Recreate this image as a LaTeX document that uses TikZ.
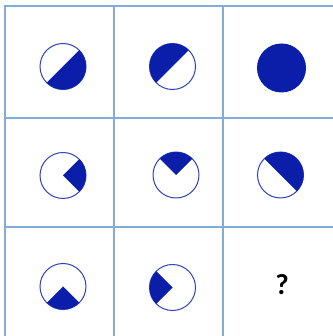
\documentclass[tikz,border=0pt]{standalone}
\usepackage{fontspec}
\usetikzlibrary{calc}
\newfontfamily\qfont{Carlito}
\definecolor{gridc}{RGB}{130,172,218}
\definecolor{fillc}{RGB}{10,30,170}
\definecolor{ringc}{RGB}{45,65,195}
\begin{document}
\begin{tikzpicture}[x=1pt,y=1pt,
  gridline/.style={draw=gridc,line width=1.8pt},
  ring/.style={circle,draw=ringc,line width=1pt,minimum size=46pt,inner sep=0pt,fill=white},
  shade/.style={fill=fillc}]
\useasboundingbox (0,0) rectangle (332,336);
% grid (y flipped: ypix -> 336-ypix)
\draw[gridline] (5,-5) -- (5,330.9);
\draw[gridline] (114,-5) -- (114,330.9);
\draw[gridline] (223,-5) -- (223,330.9);
\draw[gridline] (4.1,330) -- (340,330);
\draw[gridline] (4.1,218) -- (340,218);
\draw[gridline] (4.1,109) -- (340,109);
% row 1
\node[ring] (a1) at (63,269.5) {};
\fill[shade] ($(a1.center)+(225:23)$) arc[start angle=225,end angle=405,radius=23] -- cycle;
\node[ring] (a2) at (172.5,269.5) {};
\fill[shade] ($(a2.center)+(45:23)$) arc[start angle=45,end angle=225,radius=23] -- cycle;
\node[ring,minimum size=48pt,fill=fillc,draw=fillc] (a3) at (281.5,268) {};
% row 2
\node[ring] (b1) at (63,160.5) {};
\fill[shade] (b1.center) -- ++(-45:23) arc[start angle=-45,end angle=45,radius=23] -- cycle;
\node[ring] (b2) at (176,161) {};
\fill[shade] (b2.center) -- ++(45:23) arc[start angle=45,end angle=135,radius=23] -- cycle;
\node[ring] (b3) at (280.5,161) {};
\fill[shade] ($(b3.center)+(-45:23)$) arc[start angle=-45,end angle=135,radius=23] -- cycle;
% row 3
\node[ring] (c1) at (63,49.5) {};
\fill[shade] (c1.center) -- ++(225:23) arc[start angle=225,end angle=315,radius=23] -- cycle;
\node[ring] (c2) at (172.5,48.5) {};
\fill[shade] (c2.center) -- ++(135:23) arc[start angle=135,end angle=225,radius=23] -- cycle;
\node[font=\qfont\bfseries\fontsize{29}{29}\selectfont,inner sep=0pt] (q) at (282,51) {?};
\end{tikzpicture}
\end{document}
